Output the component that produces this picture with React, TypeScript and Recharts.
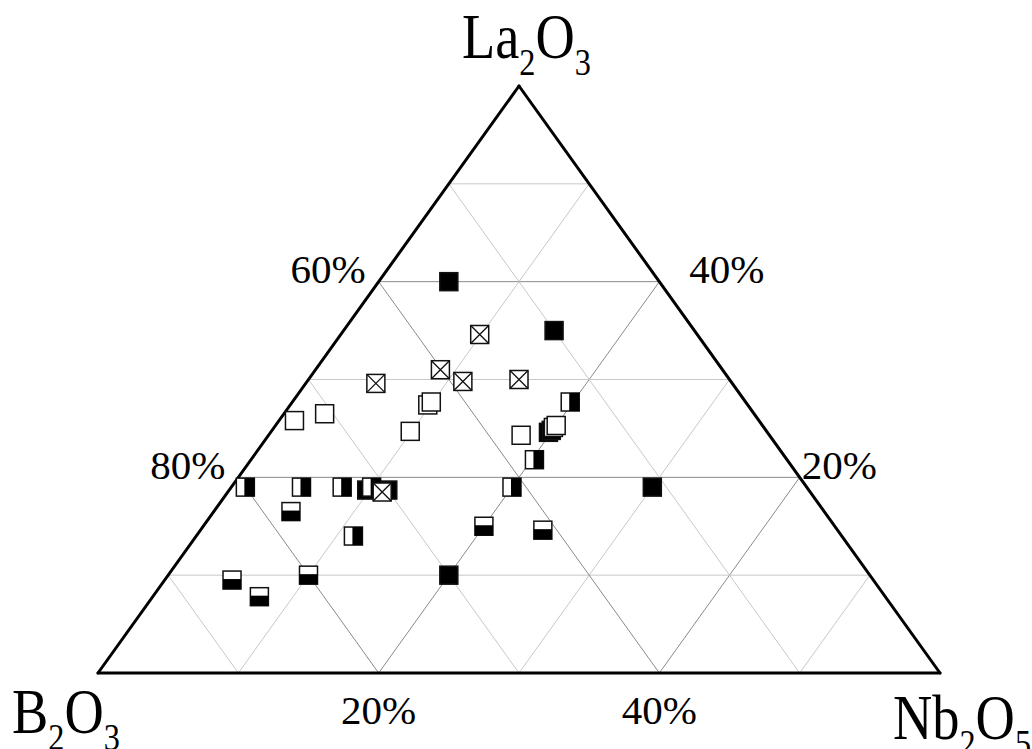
import { ReferenceDot, ReferenceLine, Scatter, ScatterChart, XAxis, YAxis } from "recharts";

// Compositions as [La2O3 %, Nb2O5 %]; B2O3 is the balance.
const filledPoints = [
  [40, 5],
  [35, 15],
  [19, 30],
  [10, 20],
  [18.7, 9.8],
  [18.7, 11.3],
  [24.6, 19.8],
  [24.8, 19.9],
];
const halfVerticalPoints = [
  [27.7, 19.8],
  [21.8, 20.2],
  [19, 20],
  [19, 1],
  [19, 5],
  [19, 7.9],
  [19, 10],
  [14, 11.2],
];
const halfHorizontalPoints = [
  [16.5, 5.5],
  [15, 20],
  [14.6, 24.4],
  [10, 10],
  [9.5, 4.8],
  [7.8, 7.6],
];
const openPoints = [
  [25.8, 1.1],
  [26.5, 2.9],
  [27.4, 9.8],
  [27.7, 9.9],
  [24.7, 9.9],
  [24.3, 18],
  [25.1, 19.9],
  [25.3, 20],
];
const crossedPoints = [
  [34.6, 9.9],
  [31, 8.9],
  [29.6, 5],
  [29.8, 11.1],
  [30, 15],
  [18.5, 11],
];

// grid steps along each component
const gridSteps = [10, 20, 30, 40, 50];
const leftTickLa = [40, 20];
const leftTickLabels = ["60%", "80%"];
const rightTickLa = [40, 20];
const rightTickLabels = ["40%", "20%"];
const bottomTickNb = [20, 40];
const bottomTickLabels = ["20%", "40%"];

const SPAN = 60;
const SERIF = '"Liberation Serif", "Times New Roman", serif';

// ternary -> cartesian (x along the base, y = La2O3 height)
const toXY = ([la, nb]: number[]) => ({ x: nb + la / 2, y: la });

const H = 9;

function FilledMark({ cx, cy }: any) {
  return <rect x={cx - H} y={cy - H} width={2 * H} height={2 * H} fill="#000" stroke="#111" strokeWidth={1.5} />;
}

function OpenMark({ cx, cy }: any) {
  return <rect x={cx - H} y={cy - H} width={2 * H} height={2 * H} fill="#fff" stroke="#111" strokeWidth={1.5} />;
}

function CrossedMark({ cx, cy }: any) {
  return (
    <g>
      <rect x={cx - H} y={cy - H} width={2 * H} height={2 * H} fill="#fff" stroke="#111" strokeWidth={1.5} />
      <path d={`M${cx - H},${cy - H}L${cx + H},${cy + H}M${cx + H},${cy - H}L${cx - H},${cy + H}`} stroke="#111" strokeWidth={1.3} />
    </g>
  );
}

function HalfVerticalMark({ cx, cy }: any) {
  return (
    <g>
      <rect x={cx - H} y={cy - H} width={2 * H} height={2 * H} fill="#fff" stroke="#111" strokeWidth={1.5} />
      <rect x={cx - 1} y={cy - H} width={H + 1} height={2 * H} fill="#000" />
    </g>
  );
}

function HalfHorizontalMark({ cx, cy }: any) {
  return (
    <g>
      <rect x={cx - H} y={cy - H} width={2 * H} height={2 * H} fill="#fff" stroke="#111" strokeWidth={1.5} />
      <rect x={cx - H} y={cy - 1} width={2 * H} height={H + 1} fill="#000" />
    </g>
  );
}

// label renderer for a ReferenceDot: hands the dot centre to `content`
function textLabel(content: (x: number, y: number) => React.ReactNode) {
  return (props: any) => {
    const vb = props.viewBox || {};
    const x = vb.x + (vb.width || 0) / 2;
    const y = vb.y + (vb.height || 0) / 2;
    return <g>{content(x, y)}</g>;
  };
}

// oxide formula with subscripts, slightly condensed
function Formula({ x, y, main, sub }: { x: number; y: number; main: string[]; sub: string[] }) {
  const parts: React.ReactNode[] = [];
  main.forEach((m, i) => {
    parts.push(
      <tspan key={`m${i}`} fontSize={64} dy={i === 0 ? 0 : -17}>
        {m}
      </tspan>,
    );
    parts.push(
      <tspan key={`s${i}`} fontSize={38} dy={17}>
        {sub[i]}
      </tspan>,
    );
  });
  return (
    <text transform={`translate(${x},${y}) scale(0.85,1)`} x={0} y={0} fontFamily={SERIF} fill="#000">
      {parts}
    </text>
  );
}

export default function App() {
  const gridLines: React.ReactNode[] = [];
  gridSteps.forEach((k) => {
    const stroke = k % 20 === 0 ? "#8a8a8a" : "#c8c8c8";
    // La2O3 constant
    gridLines.push(
      <ReferenceLine key={`la${k}`} segment={[toXY([k, 0]), toXY([k, SPAN - k])]} stroke={stroke} strokeWidth={1} />,
    );
    // Nb2O5 constant
    gridLines.push(
      <ReferenceLine key={`nb${k}`} segment={[toXY([0, k]), toXY([SPAN - k, k])]} stroke={stroke} strokeWidth={1} />,
    );
    // B2O3 constant
    gridLines.push(
      <ReferenceLine key={`b${k}`} segment={[toXY([0, k]), toXY([k, 0])]} stroke={stroke} strokeWidth={1} />,
    );
  });

  const cornerB = toXY([0, 0]);
  const cornerNb = toXY([0, SPAN]);
  const cornerLa = toXY([SPAN, 0]);
  const edges = [
    [cornerB, cornerNb],
    [cornerNb, cornerLa],
    [cornerLa, cornerB],
  ];

  const pctStyle = { fontFamily: SERIF, fontSize: 41, fill: "#000" };

  return (
    <div style={{ position: "absolute", left: 0, top: 0, background: "#fff" }}>
      <ScatterChart width={1032} height={749} margin={{ top: 86, right: 92, bottom: 76, left: 98 }}>
        <XAxis type="number" dataKey="x" domain={[0, SPAN]} hide />
        <YAxis type="number" dataKey="y" domain={[0, SPAN]} hide />
        {gridLines}
        {edges.map((seg, i) => (
          <ReferenceLine key={`edge${i}`} segment={seg} stroke="#000" strokeWidth={3} strokeLinecap="round" />
        ))}

        {leftTickLa.map((la, i) => (
          <ReferenceDot
            key={`lt${i}`}
            {...toXY([la, 0])}
            r={1}
            fill="none"
            stroke="none"
            label={textLabel((x, y) => (
              <text x={x - 13} y={y + 1.5} textAnchor="end" {...pctStyle}>
                {leftTickLabels[i]}
              </text>
            ))}
          />
        ))}
        {rightTickLa.map((la, i) => (
          <ReferenceDot
            key={`rt${i}`}
            {...toXY([la, SPAN - la])}
            r={1}
            fill="none"
            stroke="none"
            label={textLabel((x, y) => (
              <text x={x + (i === 0 ? 30 : 2)} y={y + 1.5} textAnchor="start" {...pctStyle}>
                {rightTickLabels[i]}
              </text>
            ))}
          />
        ))}
        {bottomTickNb.map((nb, i) => (
          <ReferenceDot
            key={`bt${i}`}
            {...toXY([0, nb])}
            r={1}
            fill="none"
            stroke="none"
            label={textLabel((x, y) => (
              <text x={x} y={y + 51} textAnchor="middle" {...pctStyle}>
                {bottomTickLabels[i]}
              </text>
            ))}
          />
        ))}

        <ReferenceDot
          {...cornerLa}
          r={1}
          fill="none"
          stroke="none"
          label={textLabel((x, y) => <Formula x={x - 57} y={y - 28} main={["La", "O"]} sub={["2", "3"]} />)}
        />
        <ReferenceDot
          {...cornerB}
          r={1}
          fill="none"
          stroke="none"
          label={textLabel((x, y) => <Formula x={x - 86} y={y + 60} main={["B", "O"]} sub={["2", "3"]} />)}
        />
        <ReferenceDot
          {...cornerNb}
          r={1}
          fill="none"
          stroke="none"
          label={textLabel((x, y) => <Formula x={x - 47} y={y + 66} main={["Nb", "O"]} sub={["2", "5"]} />)}
        />

        <Scatter data={filledPoints.map(toXY)} shape={FilledMark} isAnimationActive={false} />
        <Scatter data={halfVerticalPoints.map(toXY)} shape={HalfVerticalMark} isAnimationActive={false} />
        <Scatter data={halfHorizontalPoints.map(toXY)} shape={HalfHorizontalMark} isAnimationActive={false} />
        <Scatter data={openPoints.map(toXY)} shape={OpenMark} isAnimationActive={false} />
        <Scatter data={crossedPoints.map(toXY)} shape={CrossedMark} isAnimationActive={false} />
      </ScatterChart>
    </div>
  );
}
